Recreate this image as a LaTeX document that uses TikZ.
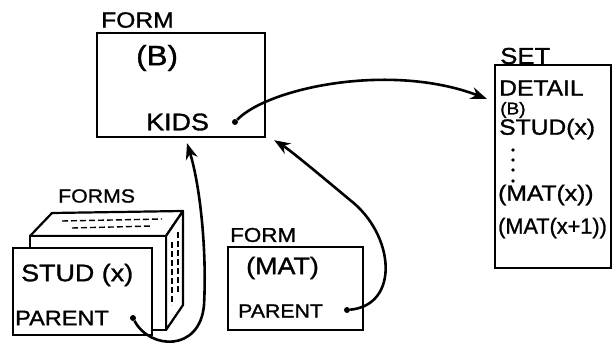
\documentclass[tikz,border=0pt]{standalone}
\usepackage{fontspec}
\newfontfamily\handfont[FakeStretch=1.12, FakeBold=1.2]{Liberation Sans}
\newcommand{\hs}[1]{\handfont\fontsize{#1}{#1}\selectfont}
\usetikzlibrary{arrows.meta, positioning}

\begin{document}
\begin{tikzpicture}[x=1pt, y=-1pt,
        box/.style={draw, line width=2.4pt, fill=white, rectangle, inner sep=0pt},
        sheet/.style={draw, line width=2.2pt, fill=white, line join=round},
        hatch/.style={line width=1.4pt, dash pattern=on 6pt off 3pt},
        lbl/.style={anchor=west, inner sep=0pt},
        dot/.style={circle, fill, inner sep=0pt, minimum size=6pt},
        link/.style={-{Stealth[length=16pt, width=12pt]}, line width=2.6pt}
    ]
        \useasboundingbox (0,0) rectangle (612,348);

        % --- top form ---
        \node[lbl, font=\hs{22}] (formBlabel) at (101,20) {FORM};
        \node[box, minimum width=168pt, minimum height=104pt] (formB) at (181,85) {};
        \node[lbl, font=\hs{28}] (formBname) at (136,58) {(B)};
        \node[lbl, font=\hs{24}] (kids) at (146,122) {KIDS};
        \node[dot] (kidsdot) at (235,122) {};

        % --- set box (right) ---
        \node[lbl, font=\hs{23}] (setlabel) at (500,56) {SET};
        \node[box, minimum width=116pt, minimum height=203pt] (setbox) at (553,166.5) {};
        \node[lbl, font=\hs{22}] (detail) at (499,88) {DETAIL};
        \node[lbl, font=\hs{17}] (setB) at (500,110) {(B)};
        \node[lbl, font=\hs{22}] (setstud) at (499,129) {STUD(x)};
        \fill (513,150) circle (1.8pt) (513,160) circle (1.8pt)
              (513,170) circle (1.8pt) (513,181) circle (1.8pt);
        \node[lbl, font=\hs{22}] (setmat) at (498,195) {(MAT(x))};
        \node[lbl, font=\hs{22}] (setmatnext) at (498,228) {\scalebox{0.88}[1]{(MAT(x+1))}};

        % --- stack of forms (bottom left) ---
        \node[lbl, font=\hs{19}] (formslabel) at (58,196) {FORMS};
        \draw[sheet] (30,236) -- (52,213) -- (183,211) -- (166,236) -- cycle;
        \draw[sheet] (166,236) -- (183,211) -- (183,305) -- (166,330) -- cycle;
        \draw[sheet] (30,236) rectangle (166,330);
        \draw[hatch] (62,221) -- (162,219);
        \draw[hatch] (72,228) -- (152,226);
        \draw[hatch] (172,242) -- (172,305);
        \draw[hatch] (178,232) -- (178,292);
        \node[box, minimum width=139pt, minimum height=87pt] (formsfront) at (82.5,291.5) {};
        \node[lbl, font=\hs{24}] (stud) at (21,275) {STUD (x)};
        \node[lbl, font=\hs{21}] (formsparent) at (15,318) {PARENT};
        \node[dot] (formsdot) at (133,318) {};

        % --- form (MAT) ---
        \node[lbl, font=\hs{20}] (formmatlabel) at (230,235) {FORM};
        \node[box, minimum width=135pt, minimum height=83pt] (formmat) at (295.5,288.5) {};
        \node[lbl, font=\hs{24}] (matname) at (246,268) {(MAT)};
        \node[lbl, font=\hs{19}] (matparent) at (238,311) {PARENT};
        \node[dot] (matdot) at (347,310) {};

        % --- pointers ---
        \draw[link] (kidsdot) .. controls (268,88) and (390,62) .. ([xshift=-7pt, yshift=-35pt]setbox.north west);
        \draw[link] (formsdot) .. controls (150,350) and (200,352) .. (204,305)
            .. controls (207,250) and (200,185) .. ([xshift=6pt, yshift=-5pt]formB.south);
        \draw[link] (matdot) .. controls (400,305) and (395,235) .. (350,200)
            .. controls (320,175) and (290,150) .. ([xshift=8pt, yshift=-2pt]formB.south east);

    \end{tikzpicture}
\end{document}
